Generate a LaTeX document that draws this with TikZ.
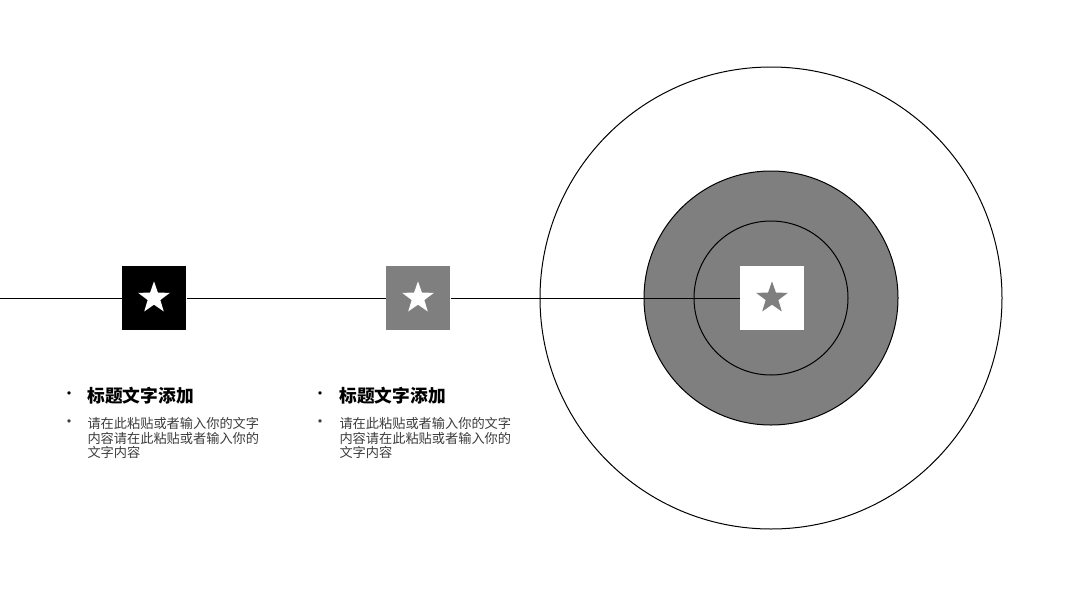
\documentclass[tikz,border=0pt]{standalone}
\usepackage{fontspec}
\newfontfamily\cjk{Noto Sans CJK SC}
\usetikzlibrary{shapes.geometric}
\definecolor{midgray}{RGB}{127,127,127}
\definecolor{textgray}{RGB}{60,60,60}
\tikzset{every picture/.style={line width=0.75pt}}
\tikzset{
  sqbox/.style={draw=none, minimum size=48pt, inner sep=0pt},
  starmark/.style={star, star points=5, star point ratio=2.5, minimum size=25pt, inner sep=0pt, draw=none},
  titletext/.style={anchor=west, inner sep=0pt, font=\cjk\bfseries\fontsize{13.3}{16}\selectfont},
  bodytext/.style={anchor=north west, align=left, inner sep=0pt, text=textgray, font=\cjk\fontsize{9.9}{10.9}\selectfont},
  dotmark/.style={inner sep=0pt, font=\cjk\fontsize{12}{13}\selectfont},
}
\begin{document}
\begin{tikzpicture}[x=0.75pt,y=0.75pt,yscale=-1,xscale=1]
\useasboundingbox (0,0) rectangle (1067,600);

% Rings
\draw (771,298) circle [radius=231];
\draw[fill=midgray] (771,298) circle [radius=127];
\draw (771,298) circle [radius=77];

% Squares
\node[sqbox, fill=black] (sqA) at (154,298) {};
\node[sqbox, fill=midgray] (sqB) at (418,298) {};
\node[sqbox, fill=white] (sqC) at (772,298) {};
\node[starmark, fill=white] (starA) at (sqA) {};
\node[starmark, fill=white] (starB) at (sqB) {};
\node[starmark, fill=midgray] (starC) at (sqC) {};

% Connection
\coordinate (lineL) at (0,298);
\draw (lineL) -- (sqA.west);
\draw (sqA.east) -- (sqB.west);
\draw (sqB.east) -- (sqC.west);

% Text Node
\node[dotmark] (dotA1) at (69,396) {•};
\node[titletext] (titleA) at (87,396) {标题文字添加};
\node[dotmark, text=textgray] (dotA2) at (69,424) {•};
\node[bodytext] (bodyA) at (87,417) {请在此粘贴或者输入你的文字\\内容请在此粘贴或者输入你的\\文字内容};
% Text Node
\node[dotmark] (dotB1) at (320,396) {•};
\node[titletext] (titleB) at (339,396) {标题文字添加};
\node[dotmark, text=textgray] (dotB2) at (320,424) {•};
\node[bodytext] (bodyB) at (339,417) {请在此粘贴或者输入你的文字\\内容请在此粘贴或者输入你的\\文字内容};

\end{tikzpicture}
\end{document}
